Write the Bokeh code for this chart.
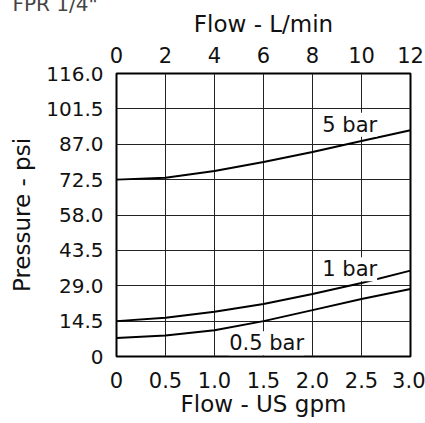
from bokeh.plotting import figure
from bokeh.models import LinearAxis, FixedTicker, Label, Range1d, Title
from bokeh.embed import file_html
from bokeh.resources import INLINE

# ---- data ----
flow_lpm = [0, 2, 4, 6, 8, 10, 12]
p_5bar = [72.5, 73.3, 76.0, 79.7, 83.8, 88.3, 92.7]
p_1bar = [14.5, 15.9, 18.3, 21.5, 25.6, 30.1, 35.2]
p_05bar = [7.6, 8.6, 10.8, 14.5, 19.0, 23.6, 27.7]

top_ticks = [0, 2, 4, 6, 8, 10, 12]
top_tick_labels = ["0", "2", "4", "6", "8", "10", "12"]
bottom_tick_labels = ["0", "0.5", "1.0", "1.5", "2.0", "2.5", "3.0"]
psi_ticks = [0, 14.5, 29, 43.5, 58, 72.5, 87, 101.5, 116]
psi_tick_labels = ["0", "14.5", "29.0", "43.5", "58.0", "72.5", "87.0", "101.5", "116.0"]

series_labels = ["5 bar", "1 bar", "0.5 bar"]
label_x = [8.4, 8.4, 4.6]
label_y = [95.0, 35.8, 5.4]

FONT = "DejaVu Sans"

p = figure(width=425, height=423, output_backend="svg", toolbar_location=None,
           x_range=Range1d(0, 12), y_range=Range1d(0, 116),
           min_border_left=116, min_border_right=15, min_border_top=73, min_border_bottom=67,
           x_axis_location="below")

p.outline_line_color = "black"
p.outline_line_width = 2
p.background_fill_color = "white"
p.border_fill_color = "white"

def style_axis(ax):
    ax.axis_line_color = None
    ax.major_tick_line_color = None
    ax.minor_tick_line_color = None
    ax.major_tick_out = 0
    ax.major_tick_in = 0
    ax.major_label_text_font = FONT
    ax.major_label_text_font_size = "21px"
    ax.major_label_text_color = "#111111"
    ax.axis_label_text_font = FONT
    ax.axis_label_text_font_size = "23px"
    ax.axis_label_text_font_style = "normal"
    ax.axis_label_text_color = "#111111"

# bottom axis
xb = p.xaxis[0]
xb.ticker = FixedTicker(ticks=top_ticks)
xb.major_label_overrides = {t: l for t, l in zip(top_ticks, bottom_tick_labels)}
xb.axis_label = "Flow - US gpm"
style_axis(xb)
xb.major_label_standoff = 15
xb.axis_label_standoff = 0

# top axis
xt = LinearAxis(ticker=FixedTicker(ticks=top_ticks), axis_label="Flow - L/min")
xt.major_label_overrides = {t: l for t, l in zip(top_ticks, top_tick_labels)}
style_axis(xt)
xt.major_label_standoff = 11
xt.axis_label_standoff = 7
p.add_layout(xt, "above")

# left axis
yl = p.yaxis[0]
yl.ticker = FixedTicker(ticks=psi_ticks)
yl.major_label_overrides = {t: l for t, l in zip(psi_ticks, psi_tick_labels)}
yl.axis_label = "Pressure - psi"
style_axis(yl)
yl.major_label_text_font_size = "20px"
yl.major_label_standoff = 13
yl.axis_label_standoff = 8

p.xgrid.ticker = FixedTicker(ticks=top_ticks)
p.ygrid.ticker = FixedTicker(ticks=psi_ticks)
for g in (p.xgrid[0], p.ygrid[0]):
    g.grid_line_color = "#222222"
    g.grid_line_width = 1
    g.grid_line_alpha = 1

for ys in (p_5bar, p_1bar, p_05bar):
    p.line(flow_lpm, ys, line_color="black", line_width=2)

for txt, lx, ly in zip(series_labels, label_x, label_y):
    p.add_layout(Label(x=lx, y=ly, text=txt, text_font=FONT, text_font_size="21px",
                       text_baseline="middle", text_align="left", text_color="#111111",
                       background_fill_color="white", background_fill_alpha=1.0))

# corner caption (a title that takes no room of its own)
cap = Title(text='FPR 1/4"', align="left", vertical_align="top", text_baseline="middle",
            offset=-104, standoff=-31,
            text_font=FONT, text_font_size="20px", text_font_style="normal",
            text_color="#444444")
p.add_layout(cap, "above")

open("out.html", "w").write(file_html(p, INLINE))
